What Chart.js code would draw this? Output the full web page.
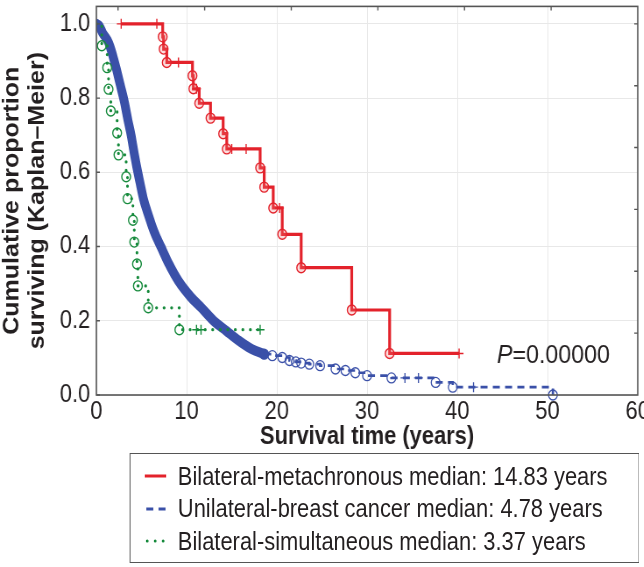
<!DOCTYPE html>
<html>
<head>
<meta charset="utf-8">
<script src="https://cdn.jsdelivr.net/npm/chart.js@4.4.1/dist/chart.umd.min.js"></script>
<style>
  body { margin: 0; background: #fff; font-family: "Liberation Sans", Arial, sans-serif; overflow: hidden; }
  /* the source figure is squeezed sideways, so draw wider and squeeze the same way */
  #wrap { position: relative; width: 735px; height: 567px; transform: scaleX(0.876); transform-origin: 0 0; }
  #legend {
    position: absolute; left: 148px; top: 453px; width: 582px; height: 110px;
    box-sizing: border-box; border: 1.5px solid #555; padding-top: 6px;
    font-size: 25px; color: #231f20;
  }
  .row { height: 32.5px; display: flex; align-items: center; }
  .row svg { margin-left: 16px; margin-right: 13px; }
</style>
</head>
<body>
<div id="wrap">
  <canvas id="chart" width="735" height="452"></canvas>
  <div id="legend"></div>
</div>
<script>
// axis ticks
const xTickValues = [0, 10, 20, 30, 40, 50, 60];
const yTickValues = [0, 0.2, 0.4, 0.6, 0.8, 1.0];
const yTickLabels = ["0.0", "0.2", "0.4", "0.6", "0.8", "1.0"];
// odd little marks on the top and right frame
const topTickValues = [2.4, 12, 21.6, 31.2, 40.8, 50.4];
const rightTickValues = [1 / 6, 2 / 6, 3 / 6, 4 / 6, 5 / 6, 1.0];

// Bilateral-metachronous (cens 1 = censored "+")
const redTime = [2.75, 6.7, 7.35, 7.45, 7.8, 9.1, 10.65, 10.75, 11.1, 11.4, 12.65, 14.05, 14.45, 15.0, 16.6, 18.15, 18.6, 19.6, 20.3, 20.6, 22.7, 28.3, 32.5, 40.2];
const redSurv = [1.0, 1.0, 0.965, 0.932, 0.896, 0.896, 0.860, 0.825, 0.825, 0.786, 0.746, 0.704, 0.663, 0.663, 0.663, 0.612, 0.560, 0.504, 0.504, 0.433, 0.343, 0.229, 0.112, 0.112];
const redCens = [1, 1, 0, 0, 0, 1, 0, 0, 1, 0, 0, 0, 0, 1, 1, 0, 0, 0, 1, 0, 0, 0, 0, 1];

// Unilateral - dense part (drawn as thick band) and sparse tail
const blueBandTime = [0, 0.3, 0.7, 1.2, 1.5, 2.2, 2.6, 3.1, 3.5, 3.85, 4.2, 4.55, 4.85, 5.2, 5.75, 6.4, 7.2, 8.1, 9.1, 10.5, 11.6, 13.0, 14.4, 15.8, 17.2, 18.6];
const blueBandSurv = [1.0, 0.995, 0.975, 0.957, 0.94, 0.88, 0.84, 0.79, 0.74, 0.70, 0.65, 0.605, 0.57, 0.53, 0.486, 0.44, 0.397, 0.35, 0.307, 0.263, 0.236, 0.20, 0.173, 0.146, 0.124, 0.11];
const blueTailTime = [18.6, 19.5, 20.6, 21.4, 22.1, 22.7, 23.6, 24.8, 26.5, 27.6, 28.7, 30.0, 32.7, 34.2, 35.7, 37.6, 39.5, 41.8, 50.6];
const blueTailSurv = [0.11, 0.106, 0.101, 0.093, 0.089, 0.086, 0.083, 0.079, 0.070, 0.066, 0.060, 0.052, 0.046, 0.046, 0.046, 0.034, 0.021, 0.021, 0.0];
const blueTailCens = [0, 0, 0, 0, 0, 0, 0, 0, 0, 0, 0, 0, 0, 1, 1, 0, 0, 1, 0];

// Bilateral-simultaneous (2 = start, no marker)
const greenTime = [0, 0.6, 1.2, 1.35, 1.6, 2.3, 2.45, 3.3, 3.45, 4.05, 4.2, 4.5, 4.6, 5.75, 9.2, 11.1, 11.6, 18.15];
const greenSurv = [1.0, 0.941, 0.882, 0.824, 0.765, 0.706, 0.647, 0.588, 0.529, 0.471, 0.412, 0.353, 0.294, 0.235, 0.176, 0.176, 0.176, 0.176];
const greenCens = [2, 0, 0, 0, 0, 0, 0, 0, 0, 0, 0, 0, 0, 0, 0, 1, 1, 1];

const legendLabels = [
    "Bilateral-metachronous median: 14.83 years",
    "Unilateral-breast cancer median: 4.78 years",
    "Bilateral-simultaneous median: 3.37 years"
];
const pValueText = "=0.00000";

const RED = "#e3222b";
const BLUE = "#3a50a8";
const GREEN = "#168a3c";
const INK = "#231f20";
const FONT = "'Liberation Sans', Arial, sans-serif";

function toPoints(xs, ys) {
    return xs.map((t, i) => ({ x: t, y: ys[i] }));
}
function markerStyle(cens) {
    return cens.map(c => c === 1 ? "cross" : "circle");
}
function markerRadius(cens) {
    return cens.map(c => c === 2 ? 0 : 5);
}

const data = {
    datasets: [
        {
            label: legendLabels[0],
            data: toPoints(redTime, redSurv),
            stepped: "before",
            borderColor: RED,
            borderWidth: 3.2,
            pointStyle: markerStyle(redCens),
            pointRadius: markerRadius(redCens),
            pointBorderColor: RED,
            pointBackgroundColor: "rgba(240,120,120,0.25)",
            pointBorderWidth: 1.4,
            order: 0
        },
        {
            label: legendLabels[2],
            data: toPoints(greenTime, greenSurv),
            stepped: "before",
            borderColor: GREEN,
            borderWidth: 3.2,
            borderDash: [0.1, 8.5],
            borderCapStyle: "round",
            pointStyle: markerStyle(greenCens),
            pointRadius: markerRadius(greenCens),
            pointBorderColor: GREEN,
            pointBackgroundColor: "rgba(0,0,0,0)",
            pointBorderWidth: 1.4,
            order: 1
        },
        {
            label: legendLabels[1],
            data: toPoints(blueTailTime, blueTailSurv),
            stepped: "before",
            borderColor: BLUE,
            borderWidth: 2.7,
            borderDash: [8, 6],
            pointStyle: markerStyle(blueTailCens),
            pointRadius: markerRadius(blueTailCens),
            pointBorderColor: BLUE,
            pointBackgroundColor: "rgba(0,0,0,0)",
            pointBorderWidth: 1.3,
            clip: false,
            order: 2
        },
        {
            label: "band",
            data: toPoints(blueBandTime, blueBandSurv),
            cubicInterpolationMode: "monotone",
            borderColor: BLUE,
            borderWidth: 10,
            borderCapStyle: "round",
            borderJoinStyle: "round",
            pointRadius: 0,
            order: 3
        }
    ]
};

// frame, inward ticks and the P value
const framePlugin = {
    id: "frame",
    afterDraw(chart) {
        const ctx = chart.ctx;
        const a = chart.chartArea;
        const x = chart.scales.x;
        const y = chart.scales.y;
        ctx.save();
        ctx.strokeStyle = "#555";
        ctx.lineWidth = 1.6;
        ctx.strokeRect(a.left, a.top, a.right - a.left, a.bottom - a.top);

        ctx.lineWidth = 1.4;
        ctx.beginPath();
        yTickValues.forEach(v => {
            const py = y.getPixelForValue(v);
            ctx.moveTo(a.left, py);
            ctx.lineTo(a.left + 4, py);
        });
        topTickValues.forEach(v => {
            const px = x.getPixelForValue(v);
            ctx.moveTo(px, a.top);
            ctx.lineTo(px, a.top + 4);
        });
        rightTickValues.forEach(v => {
            const py = y.getPixelForValue(v);
            ctx.moveTo(a.right, py);
            ctx.lineTo(a.right - 4, py);
        });
        ctx.stroke();

        // P=0.00000
        const px = x.getPixelForValue(44.4);
        const py = y.getPixelForValue(0.106);
        ctx.fillStyle = INK;
        ctx.textBaseline = "middle";
        ctx.textAlign = "left";
        ctx.font = "italic 26.5px " + FONT;
        ctx.fillText("P", px, py);
        const w = ctx.measureText("P").width;
        ctx.font = "26.5px " + FONT;
        ctx.fillText(pValueText, px + w, py);
        ctx.restore();
    }
};

const options = {
    responsive: false,
    animation: false,
    layout: { padding: { top: 4, right: 7, left: 0, bottom: 0 } },
    plugins: { legend: { display: false }, tooltip: { enabled: false } },
    scales: {
        x: {
            type: "linear",
            min: 0,
            max: 60,
            afterBuildTicks: s => { s.ticks = xTickValues.map(v => ({ value: v })); },
            afterFit: s => { s.height = 57; s.paddingLeft = 0; s.paddingRight = 0; },
            grid: { color: "#e8e8e8", lineWidth: 1, drawTicks: false },
            border: { display: false },
            ticks: { color: INK, font: { family: FONT, size: 25 }, padding: 2, maxRotation: 0 },
            title: {
                display: true,
                text: "Survival time (years)",
                color: INK,
                font: { family: FONT, size: 25, weight: "bold" },
                padding: { top: 0, bottom: 0 }
            }
        },
        y: {
            type: "linear",
            min: 0,
            max: 1.047,
            afterBuildTicks: s => { s.ticks = yTickValues.map(v => ({ value: v })); },
            afterFit: s => { s.width = 110; s.paddingTop = 0; s.paddingBottom = 0; },
            grid: { color: "#e8e8e8", lineWidth: 1, drawTicks: false },
            border: { display: false },
            ticks: {
                color: INK,
                font: { family: FONT, size: 25 },
                padding: 7,
                callback: (v, i) => yTickLabels[i]
            },
            title: {
                display: true,
                text: ["Cumulative proportion", "surviving (Kaplan\u2013Meier)"],
                color: INK,
                font: { family: FONT, size: 25, weight: "bold", lineHeight: 1.14 },
                padding: { top: 0, bottom: 0 }
            }
        }
    }
};

new Chart("chart", { type: "line", data: data, options: options, plugins: [framePlugin] });

// legend box below the chart
const legendSamples = [
    '<line x1="0" y1="6" x2="25" y2="6" stroke="' + RED + '" stroke-width="3.2"/>',
    '<line x1="2" y1="6" x2="25" y2="6" stroke="' + BLUE + '" stroke-width="3.2" stroke-dasharray="8,6"/>',
    '<line x1="3" y1="6" x2="25" y2="6" stroke="' + GREEN + '" stroke-width="3.2" stroke-dasharray="0.1,9" stroke-linecap="round"/>'
];
const legend = document.getElementById("legend");
legendLabels.forEach((txt, i) => {
    const row = document.createElement("div");
    row.className = "row";
    row.innerHTML = '<svg width="25" height="12">' + legendSamples[i] + '</svg><span>' + txt + '</span>';
    legend.appendChild(row);
});
</script>
</body>
</html>
